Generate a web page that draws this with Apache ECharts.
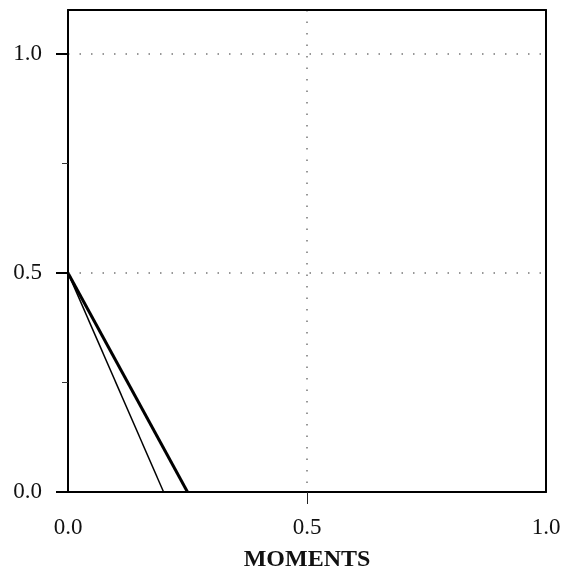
<!DOCTYPE html>
<html>
<head>
<meta charset="utf-8">
<script src="https://cdn.jsdelivr.net/npm/echarts@6/dist/echarts.min.js"></script>
<style>html,body{margin:0;padding:0;background:#fff}#c{width:568px;height:577px}</style>
</head>
<body>
<div id="c"></div>
<script>
// Data
var thickLineX = [0, 0.25];
var thickLineY = [0.5, 0];
var thinLineX = [0, 0.2];
var thinLineY = [0.5, 0];
var xTickMarks = [0.5];
var yTicks = [0, 0.5, 1.0];
var yMinorTicks = [0.25, 0.75];
var xName = 'MOMENTS';

function pairs(xs, ys){ return xs.map(function(x,i){return [x, ys[i]];}); }

var font = 'Liberation Serif';
var dotted = {color: '#777', width: 1.5, type: [1.5, 10]};
var frameLine = {show: true, onZero: false, lineStyle: {color: '#000', width: 2}};
var chart = echarts.init(document.getElementById('c'));
chart.setOption({
  animation: false,
  backgroundColor: '#fff',
  grid: {left: 68, right: 22, top: 10, bottom: 80, show: false},
  xAxis: [{
    type: 'value', min: 0, max: 1, interval: 0.5, position: 'bottom', z: 5,
    name: xName, nameLocation: 'middle', nameGap: 56,
    nameTextStyle: {fontFamily: font, fontWeight: 'bold', fontSize: 24, color: '#111'},
    axisLine: frameLine,
    axisTick: {show: false},
    axisLabel: {fontFamily: font, fontSize: 23, color: '#111', margin: 24,
      formatter: function(v){ return v.toFixed(1); }},
    splitLine: {show: true, lineStyle: dotted}
  }, {
    type: 'value', min: 0, max: 1, position: 'bottom', z: 10,
    axisLine: {show: false, onZero: false},
    axisTick: {show: true, length: 12, customValues: xTickMarks, lineStyle: {color: '#222', width: 1}},
    axisLabel: {show: false},
    splitLine: {show: false}
  }, {
    type: 'value', min: 0, max: 1, position: 'top', z: 10,
    axisLine: frameLine, axisTick: {show: false}, axisLabel: {show: false}, splitLine: {show: false}
  }],
  yAxis: [{
    type: 'value', min: 0, max: 1.1, interval: 0.5, position: 'left', z: 5,
    axisLine: frameLine,
    axisTick: {show: false},
    axisLabel: {fontFamily: font, fontSize: 23, color: '#111', margin: 26,
      customValues: yTicks,
      formatter: function(v){ return v.toFixed(1); }},
    splitLine: {show: true, lineStyle: dotted}
  }, {
    type: 'value', min: 0, max: 1.1, position: 'left', z: 10,
    axisLine: {show: false, onZero: false},
    axisTick: {show: true, length: 12, customValues: yTicks, lineStyle: {color: '#000', width: 2}},
    axisLabel: {show: false},
    splitLine: {show: false}
  }, {
    type: 'value', min: 0, max: 1.1, position: 'left', z: 10,
    axisLine: {show: false, onZero: false},
    axisTick: {show: true, length: 6, customValues: yMinorTicks, lineStyle: {color: '#333', width: 1}},
    axisLabel: {show: false},
    splitLine: {show: false}
  }, {
    type: 'value', min: 0, max: 1.1, position: 'right', z: 10,
    axisLine: frameLine, axisTick: {show: false}, axisLabel: {show: false}, splitLine: {show: false}
  }],
  series: [{
    type: 'line', data: pairs(thickLineX, thickLineY), showSymbol: false,
    lineStyle: {color: '#000', width: 3}
  }, {
    type: 'line', data: pairs(thinLineX, thinLineY), showSymbol: false,
    lineStyle: {color: '#000', width: 1.5}
  }]
});
</script>
</body>
</html>
